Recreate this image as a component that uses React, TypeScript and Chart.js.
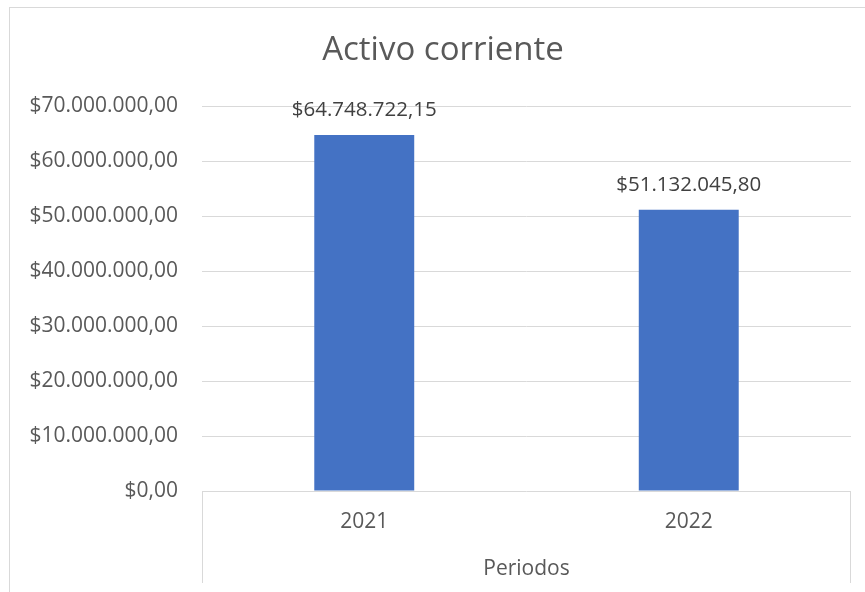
import React, { useEffect, useRef } from 'react';
import { Chart, registerables } from 'chart.js';

Chart.register(...registerables);

const chartTitle = 'Activo corriente';
const axisTitle = 'Periodos';
const categories = ['2021', '2022'];
const values = [64748722.15, 51132045.8];
const yMin = 0;
const yMax = 70000000;
const yStep = 10000000;

const FONT = "'Open Sans', 'Noto Sans', sans-serif";

function fmt(v: number): string {
  const [i, d] = v.toFixed(2).split('.');
  return '$' + i.replace(/\B(?=(\d{3})+(?!\d))/g, '.') + ',' + d;
}

const framePlugin = {
  id: 'frame',
  beforeDraw(chart: any) {
    const { ctx, width, height } = chart;
    ctx.save();
    ctx.fillStyle = '#ffffff';
    ctx.fillRect(0, 0, width, height);
    ctx.strokeStyle = '#d9d9d9';
    ctx.lineWidth = 1;
    ctx.strokeRect(9.5, 7.5, width + 50, height + 50);
    ctx.restore();
  },
  afterDraw(chart: any) {
    const { ctx, chartArea, width } = chart;
    ctx.save();
    ctx.strokeStyle = '#d9d9d9';
    ctx.lineWidth = 1;
    ctx.beginPath();
    const l = Math.round(chartArea.left) + 0.5;
    const r = Math.round(chartArea.right) - 0.5;
    ctx.moveTo(l, chartArea.bottom);
    ctx.lineTo(l, chartArea.bottom + 92);
    ctx.moveTo(r, chartArea.bottom);
    ctx.lineTo(r, chartArea.bottom + 92);
    ctx.stroke();
    // chart title, centred on the chart frame (frame starts at x=9)
    ctx.font = `33px ${FONT}`;
    ctx.fillStyle = '#595959';
    ctx.textAlign = 'center';
    ctx.textBaseline = 'middle';
    ctx.fillText(chartTitle, (9 + width + 12) / 2, 51);
    ctx.restore();
  },
};

const labelPlugin = {
  id: 'barLabels',
  afterDatasetsDraw(chart: any) {
    const { ctx } = chart;
    const meta = chart.getDatasetMeta(0);
    ctx.save();
    ctx.font = `20.5px ${FONT}`;
    ctx.fillStyle = '#404040';
    ctx.textAlign = 'center';
    ctx.textBaseline = 'middle';
    meta.data.forEach((el: any, i: number) => {
      ctx.fillText(fmt(values[i]), el.x, el.y - 25);
    });
    ctx.restore();
  },
};

export default function App() {
  const ref = useRef<HTMLCanvasElement>(null);
  useEffect(() => {
    document.body.style.margin = '0';
    const chart = new Chart(ref.current!, {
      type: 'bar',
      data: {
        labels: categories,
        datasets: [
          {
            data: values,
            backgroundColor: '#4472c4',
            barPercentage: 0.308,
            categoryPercentage: 1,
          },
        ],
      },
      options: {
        animation: false,
        responsive: false,
        layout: { padding: { left: 0, right: 14, top: 106, bottom: 0 } },
        plugins: {
          legend: { display: false },
          tooltip: { enabled: false },
          title: { display: false },
        },
        scales: {
          x: {
            grid: { display: false, drawTicks: false },
            border: { display: false },
            ticks: { color: '#595959', font: { family: FONT, size: 21 }, padding: 18 },
            title: {
              display: true,
              text: axisTitle,
              color: '#595959',
              font: { family: FONT, size: 21 },
              padding: { top: 0, bottom: 10 },
            },
            afterFit(scale: any) {
              scale.height = 101;
            },
          },
          y: {
            min: yMin,
            max: yMax,
            grid: { color: '#d9d9d9', drawTicks: false },
            border: { display: false },
            ticks: {
              stepSize: yStep,
              color: '#595959',
              font: { family: FONT, size: 21 },
              padding: 24,
              callback: (v: any) => fmt(Number(v)),
            },
            afterFit(scale: any) {
              scale.width = 202;
            },
          },
        },
      },
      plugins: [framePlugin, labelPlugin],
    });
    return () => chart.destroy();
  }, []);
  return (
    <div style={{ position: 'absolute', left: 0, top: 0, width: 865, height: 592 }}>
      <canvas ref={ref} width={865} height={592} style={{ display: 'block' }} />
    </div>
  );
}
